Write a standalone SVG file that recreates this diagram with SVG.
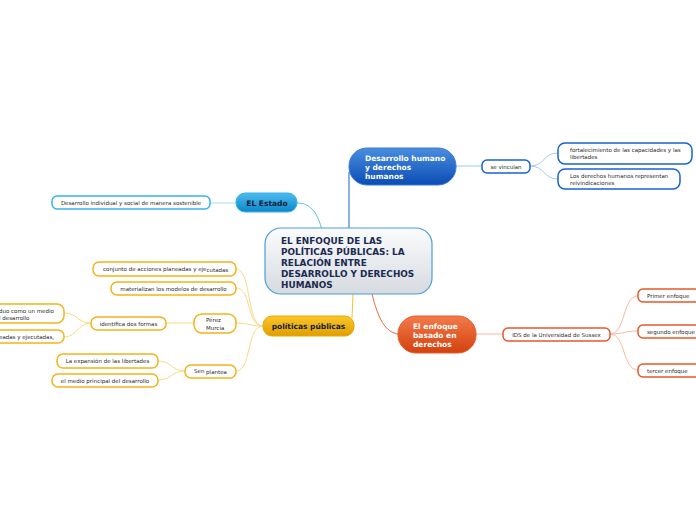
<svg xmlns="http://www.w3.org/2000/svg" width="696" height="520" viewBox="0 0 696 520">
<defs>
<linearGradient id="gCenter" x1="0" y1="0" x2="0" y2="1"><stop offset="0" stop-color="#fbfcfd"/><stop offset="1" stop-color="#d6dbe0"/></linearGradient>
<linearGradient id="gBlue" x1="0" y1="0" x2="0" y2="1"><stop offset="0" stop-color="#4a8ee0"/><stop offset="1" stop-color="#0a4cb4"/></linearGradient>
<linearGradient id="gSky" x1="0" y1="0" x2="0" y2="1"><stop offset="0" stop-color="#4cbcf0"/><stop offset="1" stop-color="#0a86c8"/></linearGradient>
<linearGradient id="gGold" x1="0" y1="0" x2="0" y2="1"><stop offset="0" stop-color="#fbc62a"/><stop offset="1" stop-color="#e09e00"/></linearGradient>
<linearGradient id="gRed" x1="0" y1="0" x2="0" y2="1"><stop offset="0" stop-color="#f47a4a"/><stop offset="1" stop-color="#d2420e"/></linearGradient>
</defs>
<style>
text{font-family:"DejaVu Sans",Verdana,sans-serif}
.sm{font-size:5.5px;fill:#2a2a2a}
.smc{font-size:5.5px;fill:#2a2a2a;text-anchor:middle}
.wb{fill:#fff;stroke-width:1.5}
.b{stroke:#1a62d4}.sk{stroke:#3ab2ea}.o{stroke:#f5b31a}.r{stroke:#e8582a}
.c{fill:none;stroke-width:1}
.cb{stroke:#a8c8f0}.csk{stroke:#a8dcf4}.co{stroke:#fcd98a}.cr{stroke:#f8b8a4}
.main{font-size:8.9px;font-weight:bold;fill:#1a2a50}
.mw{font-size:7.5px;font-weight:bold;fill:#fff}
.md{font-size:7.5px;font-weight:bold;fill:#10203a;text-anchor:middle}
</style>
<g id="connectors">
<path class="c" d="M349 172 L349 228" stroke="#1a62d4" stroke-width="1.5"/>
<path class="c" d="M297 203 C312 203 318 215 322 230" stroke="#5ac0ec" stroke-width="1.5"/>
<path class="c" d="M353 294 L352 318" stroke="#f8c030" stroke-width="1.5"/>
<path class="c" d="M372 294 C378 318 385 333 399 334" stroke="#f06838" stroke-width="1.5"/>
<path class="c cb" d="M456 166 L482 166"/>
<path class="c cb" d="M530 166 C545 166 543 153 558 153"/>
<path class="c cb" d="M530 166 C545 166 543 179 558 179"/>
<path class="c csk" d="M210 203 L236 203"/>
<path class="c co" d="M263 326 C246 326 252 269 236 269"/>
<path class="c co" d="M263 326 C246 326 252 288 236 288"/>
<path class="c co" d="M263 326 C250 326 248 323 236 323"/>
<path class="c co" d="M263 326 C246 326 252 371 236 371"/>
<path class="c co" d="M194 323 L166 323"/>
<path class="c co" d="M91 323 C77 323 78 313 64 313"/>
<path class="c co" d="M91 323 C77 323 78 337 64 337"/>
<path class="c co" d="M185 371 C171 371 172 361 158 361"/>
<path class="c co" d="M185 371 C171 371 172 380 158 380"/>
<path class="c cr" d="M476 334 L503 334"/>
<path class="c cr" d="M610 334 C626 334 622 296 638 296"/>
<path class="c cr" d="M610 334 C626 334 622 331 638 331"/>
<path class="c cr" d="M610 334 C626 334 622 370 638 370"/>
</g>
<g id="center">
<rect x="265" y="228" width="167" height="66" rx="16" fill="url(#gCenter)" stroke="#4a9ed8" stroke-width="1.2"/>
<text class="main" x="281" y="244">EL ENFOQUE DE LAS</text>
<text class="main" x="281" y="255">POLÍTICAS PÚBLICAS: LA</text>
<text class="main" x="281" y="266">RELACIÓN ENTRE</text>
<text class="main" x="281" y="277">DESARROLLO Y DERECHOS</text>
<text class="main" x="281" y="288">HUMANOS</text>
</g>
<g id="desarrollo-humano">
<rect x="349" y="148" width="107" height="37" rx="18" fill="url(#gBlue)" stroke="#3a7ad8" stroke-width="1"/>
<text class="mw" x="365" y="161">Desarrollo humano</text>
<text class="mw" x="365" y="170">y derechos</text>
<text class="mw" x="365" y="179">humanos</text>
</g>
<g id="se-vinculan">
<rect class="wb b" x="482" y="160" width="48" height="13" rx="5"/>
<text class="smc" x="506" y="168.5">se vinculan</text>
</g>
<g id="fortalecimiento">
<rect class="wb b" x="558" y="143" width="134" height="21" rx="7"/>
<text class="sm" x="570" y="152">fortalecimiento de las capacidades y las</text>
<text class="sm" x="570" y="159">libertades</text>
</g>
<g id="derechos-representan">
<rect class="wb b" x="558" y="169" width="122" height="20" rx="7"/>
<text class="sm" x="570" y="178">Los derechos humanos representan</text>
<text class="sm" x="570" y="185">reivindicaciones</text>
</g>
<g id="el-estado">
<rect x="236" y="193" width="61" height="19" rx="9" fill="url(#gSky)" stroke="#3ab2ea" stroke-width="1"/>
<text class="md" x="267" y="206">EL Estado</text>
</g>
<g id="desarrollo-individual">
<rect class="wb sk" x="52" y="196" width="158" height="13" rx="5"/>
<text class="smc" x="131" y="204.5">Desarrollo individual y social de manera sostenible</text>
</g>
<g id="politicas-publicas">
<rect x="263" y="316" width="91" height="20" rx="9" fill="url(#gGold)" stroke="#e8a800" stroke-width="1"/>
<text class="md" x="308.5" y="329">políticas públicas</text>
</g>
<g id="conjunto">
<rect class="wb o" x="93" y="262" width="143" height="14" rx="6"/>
<text class="sm" x="103" y="271">conjunto de acciones planeadas y eje<tspan dy="1">cutadas</tspan></text>
</g>
<g id="materializan">
<rect class="wb o" x="111" y="282" width="125" height="13" rx="6"/>
<text class="smc" x="173.5" y="290.5">materializan los modelos de desarrollo</text>
</g>
<g id="perez-murcia">
<rect class="wb o" x="194" y="314" width="42" height="19" rx="8"/>
<text class="sm" x="206" y="322">Pérez</text>
<text class="sm" x="206" y="330">Murcia</text>
</g>
<g id="identifica">
<rect class="wb o" x="91" y="317" width="75" height="13" rx="6"/>
<text class="smc" x="128.5" y="325.5">identifica dos formas</text>
</g>
<g id="forma1">
<rect class="wb o" x="-20" y="304" width="84" height="19" rx="7"/>
<text class="sm" x="-1" y="312.5">duo como un medio</text>
<text class="sm" x="-1" y="320">l desarrollo</text>
</g>
<g id="forma2">
<rect class="wb o" x="-20" y="330" width="84" height="13" rx="6"/>
<text class="sm" x="-1" y="339">eadas y ejecutadas,</text>
</g>
<g id="sen-plantea">
<rect class="wb o" x="185" y="365" width="51" height="13" rx="6"/>
<text class="sm" x="194" y="372.5">Sen <tspan dy="1">plantea</tspan></text>
</g>
<g id="expansion">
<rect class="wb o" x="57" y="354" width="101" height="14" rx="6"/>
<text class="smc" x="107.5" y="363">La expansión de las libertades</text>
</g>
<g id="medio-principal">
<rect class="wb o" x="52" y="374" width="106" height="13" rx="6"/>
<text class="smc" x="105" y="382.5">el medio principal del desarrollo</text>
</g>
<g id="enfoque-derechos">
<rect x="398" y="316" width="78" height="37" rx="18" fill="url(#gRed)" stroke="#e8582a" stroke-width="1"/>
<text class="mw" x="413" y="329">El enfoque</text>
<text class="mw" x="413" y="338">basado en</text>
<text class="mw" x="413" y="347">derechos</text>
</g>
<g id="ids">
<rect class="wb r" x="503" y="328" width="107" height="13" rx="5"/>
<text class="smc" x="556.5" y="336.5">IDS de la Universidad de Sussex</text>
</g>
<g id="primer">
<rect class="wb r" x="638" y="289" width="64" height="13" rx="5"/>
<text class="sm" x="647" y="297.5">Primer enfoque</text>
</g>
<g id="segundo">
<rect class="wb r" x="638" y="325" width="64" height="13" rx="5"/>
<text class="sm" x="647" y="333.5">segundo enfoque</text>
</g>
<g id="tercer">
<rect class="wb r" x="638" y="364" width="64" height="13" rx="5"/>
<text class="sm" x="647" y="372.5">tercer enfoque</text>
</g>
</svg>
